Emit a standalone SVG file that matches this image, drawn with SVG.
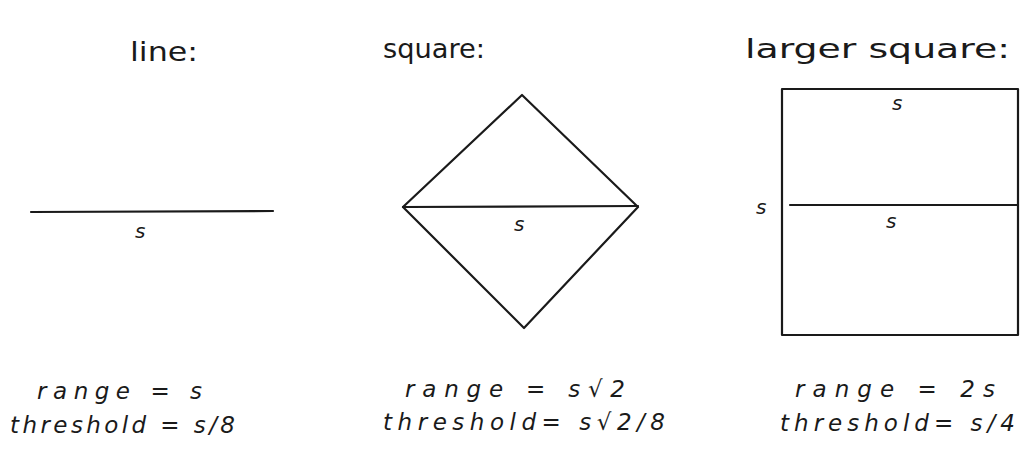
<svg xmlns="http://www.w3.org/2000/svg" width="1021" height="473" viewBox="0 0 1021 473">
<style>
.bg{fill:#ffffff}
.stroke{fill:none;stroke:#1a1a1a;stroke-width:2.2;stroke-linecap:round;stroke-linejoin:round}
.title{font-family:"DejaVu Sans Condensed","DejaVu Sans",sans-serif;font-size:27px;fill:#1a1a1a}
.lbl{font-family:"DejaVu Sans",sans-serif;font-size:20px;fill:#1a1a1a;font-style:italic}
.eq{font-family:"DejaVu Sans",sans-serif;font-size:23px;fill:#1a1a1a;font-style:italic}
</style>
<rect class="bg" x="0" y="0" width="1021" height="473"/>
<g id="line-node">
  <text class="title" x="130" y="61" textLength="68" lengthAdjust="spacingAndGlyphs">line:</text>
  <line class="stroke" x1="31" y1="212" x2="273" y2="211"/>
  <text class="lbl" x="135" y="238">s</text>
  <text class="eq" x="37" y="399" textLength="165" lengthAdjust="spacing">range = s</text>
  <text class="eq" x="10" y="433" textLength="225" lengthAdjust="spacing">threshold = s/8</text>
</g>
<g id="square-node">
  <text class="title" x="383" y="58" textLength="102" lengthAdjust="spacingAndGlyphs">square:</text>
  <polygon class="stroke" points="522,95 638,207 524,328 403,207"/>
  <line class="stroke" x1="403" y1="207" x2="638" y2="206"/>
  <text class="lbl" x="514" y="231">s</text>
  <text class="eq" x="405" y="397" textLength="220" lengthAdjust="spacing">range = s√2</text>
  <text class="eq" x="383" y="430" textLength="282" lengthAdjust="spacing">threshold= s√2/8</text>
</g>
<g id="larger-square-node">
  <text class="title" x="745" y="58" textLength="265" lengthAdjust="spacingAndGlyphs">larger square:</text>
  <rect class="stroke" x="782" y="89" width="236" height="246"/>
  <line class="stroke" x1="790" y1="205" x2="1018" y2="205"/>
  <text class="lbl" x="892" y="110">s</text>
  <text class="lbl" x="886" y="228">s</text>
  <text class="lbl" x="756" y="214">s</text>
  <text class="eq" x="795" y="397" textLength="200" lengthAdjust="spacing">range = 2s</text>
  <text class="eq" x="780" y="431" textLength="235" lengthAdjust="spacing">threshold= s/4</text>
</g>
<g id="connectors"></g>
</svg>
